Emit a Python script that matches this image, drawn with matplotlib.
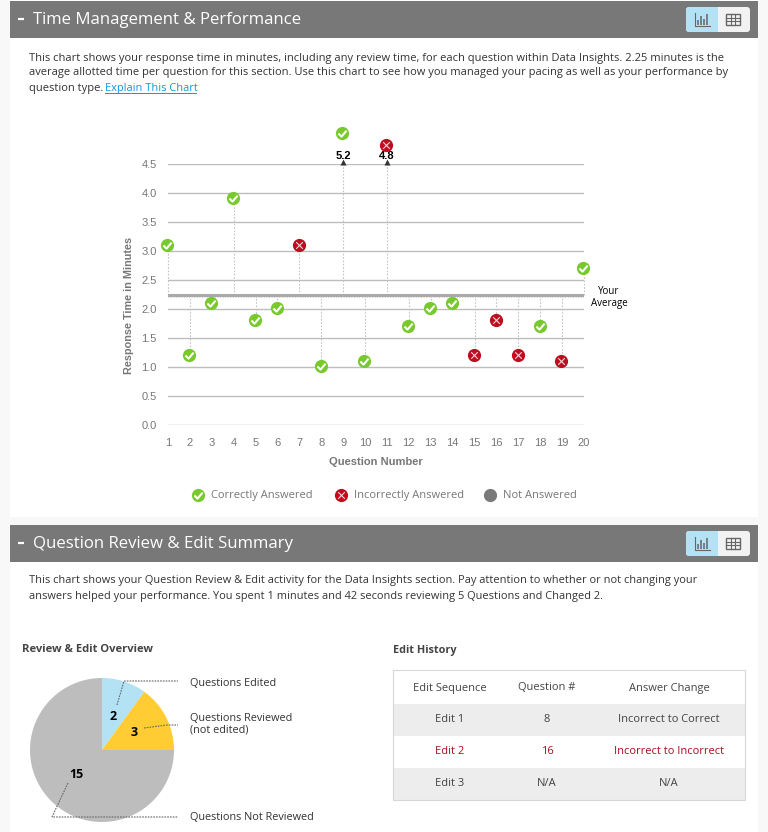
import matplotlib
matplotlib.use("Agg")
import matplotlib.pyplot as plt
from matplotlib.patches import Rectangle, FancyBboxPatch
from matplotlib.path import Path
from matplotlib.transforms import offset_copy

# Per question data
questions = list(range(1, 21))
response_times = [3.1, 1.2, 2.1, 3.9, 1.8, 2.0, 3.1, 1.0, 5.2, 1.1, 4.8, 1.7, 2.0, 2.1, 1.2, 1.8, 1.2, 1.7, 1.1, 2.7]
is_correct = [1, 1, 1, 1, 1, 1, 0, 1, 1, 1, 0, 1, 1, 1, 0, 0, 0, 1, 0, 1]
average_time = 2.25
axis_top = 4.5
# Values above the axis top sit on their own spots over the arrow
offscale_shown = {9: 5.02, 11: 4.81}
y_ticks = [0.0, 0.5, 1.0, 1.5, 2.0, 2.5, 3.0, 3.5, 4.0, 4.5]

# Pie data
pie_values = [2, 3, 15]
pie_labels = ["Questions Edited", "Questions Reviewed\n(not edited)", "Questions Not Reviewed"]
pie_colors = ["#B3E2F5", "#FFCC33", "#BDBDBD"]

# Table data
table_header = ["Edit Sequence", "Question #", "Answer Change"]
table_rows = [
    ["Edit 1", "8", "Incorrect to Correct"],
    ["Edit 2", "16", "Incorrect to Incorrect"],
    ["Edit 3", "N/A", "N/A"],
]
legend_labels = ["Correctly Answered", "Incorrectly Answered", "Not Answered"]

GREEN = "#78C92E"
RED = "#BF0D20"
plt.rcParams["font.family"] = ["Open Sans", "DejaVu Sans"]

CHECK = Path([(-0.5, 0.0), (-0.12, -0.38), (0.5, 0.35)], [Path.MOVETO, Path.LINETO, Path.LINETO])
CROSS = Path([(-0.5, -0.5), (0.5, 0.5), (-0.5, 0.5), (0.5, -0.5)],
             [Path.MOVETO, Path.LINETO, Path.MOVETO, Path.LINETO])

W, H = 768, 832
fig = plt.figure(figsize=(W / 100, H / 100), dpi=100, facecolor="#F8F8F8")

# Full page axes in pixels for the page furniture
page = fig.add_axes([0, 0, 1, 1])
page.set_xlim(0, W)
page.set_ylim(H, 0)
page.axis("off")
page.add_patch(Rectangle((10, 0), 748, 517, fc="white", ec="none"))
page.add_patch(Rectangle((10, 525), 748, 307, fc="white", ec="none"))


def draw_status(ax, x, y, correct, size=9.5, trans=None):
    color = GREEN if correct else RED
    trans = trans or ax.transData
    ax.plot([x], [y], "o", ms=size, mfc=color, mec="none", clip_on=False, zorder=6, transform=trans)
    if correct:
        ax.plot([x], [y], marker=CHECK, ms=size * 0.62, mfc="none", mec="white", mew=1.5, clip_on=False, zorder=7, transform=trans)
    else:
        ax.plot([x], [y], marker=CROSS, ms=size * 0.5, mfc="none", mec="#F3D5D8", mew=0.8, clip_on=False, zorder=7, transform=trans)


def draw_header(y, title):
    page.add_patch(Rectangle((10, y), 748, 37, fc="#787878", ec="none"))
    page.plot([18, 24], [y + 18, y + 18], color="white", lw=1.6, solid_capstyle="butt")
    page.text(33, y + 18.5, title, color="white", fontsize=12.1, fontweight="medium", va="center", ha="left")
    # chart / table toggle
    page.add_patch(FancyBboxPatch((689, y + 9), 58, 19, boxstyle="round,pad=3", fc="#F2F2F2", ec="none"))
    page.add_patch(FancyBboxPatch((689, y + 9), 26, 19, boxstyle="round,pad=3", fc="#B3E2F5", ec="none"))
    page.add_patch(Rectangle((708, y + 6), 10, 25, fc="#B3E2F5", ec="none"))
    page.plot([695, 695, 710], [y + 12, y + 25, y + 25], color="#666666", lw=0.8)
    for bx, bh in zip([698, 701, 704, 707], [5, 9, 6, 11]):
        page.plot([bx, bx], [y + 24, y + 24 - bh], color="#666666", lw=1.1, solid_capstyle="butt")
    page.add_patch(Rectangle((726, y + 13), 14, 11, fc="#F2F2F2", ec="#666666", lw=1))
    for gx in [731, 735]:
        page.plot([gx, gx], [y + 13, y + 24], color="#666666", lw=0.8)
    for gy in [y + 16.5, y + 20]:
        page.plot([726, 740], [gy, gy], color="#666666", lw=0.8)


draw_header(1, "Time Management & Performance")
draw_header(525, "Question Review & Edit Summary")

# Intro paragraphs
intro_top = [
    "This chart shows your response time in minutes, including any review time, for each question within Data Insights. 2.25 minutes is the",
    "average allotted time per question for this section. Use this chart to see how you managed your pacing as well as your performance by",
    "question type. ",
]
for line, y in zip(intro_top, [58, 73, 88]):
    page.text(29, y, line, fontsize=8, color="#333333", va="center")
page.text(105, 88, "Explain This Chart", fontsize=7.9, color="#0A9ADB", va="center")
page.plot([105, 196], [93, 93], color="#0A9ADB", lw=0.7)

intro_bottom = [
    "This chart shows your Question Review & Edit activity for the Data Insights section. Pay attention to whether or not changing your",
    "answers helped your performance. You spent 1 minutes and 42 seconds reviewing 5 Questions and Changed 2.",
]
for line, y in zip(intro_bottom, [581, 596]):
    page.text(29, y, line, fontsize=7.95, color="#333333", va="center")

# Scatter chart
ax = fig.add_axes([168 / W, (H - 425) / H, 416 / W, 261 / H], zorder=3)
ax.patch.set_alpha(0)
ax.set_xlim(1, 20)
ax.set_ylim(0, axis_top)
for side in ax.spines.values():
    side.set_visible(False)
ax.set_yticks(y_ticks)
ax.set_yticklabels([f"{t:.1f}" for t in y_ticks], family="Liberation Sans", fontsize=8, color="#777777")
ax.set_xticks(questions)
ax.set_xticklabels([str(q) for q in questions], family="Liberation Sans", fontsize=8, color="#777777")
ax.tick_params(length=0, pad=8)
ax.tick_params(axis="x", pad=9.5)
ax.grid(axis="y", color="#BDBDBD", lw=1)
ax.set_axisbelow(True)
ax.set_xlabel("Question Number", family="Liberation Sans", fontsize=8, fontweight="bold", color="#777777", labelpad=6.2)
ax.set_ylabel("Response Time in Minutes", family="Liberation Sans", fontsize=7.8, fontweight="bold", color="#777777")
ax.yaxis.set_label_coords(-0.082, 0.458)

marker_trans = offset_copy(ax.transData, fig=fig, x=-0.7, y=0.7, units="dots")
ax.axhline(average_time, color="#AAAAAA", lw=2.2, zorder=3)
ax.axhline(average_time - 0.04, color="#C8C8C8", lw=0.7, ls=":", zorder=3)
for q, t, ok in zip(questions, response_times, is_correct):
    capped = min(t, axis_top)
    ax.plot([q, q], [average_time, capped], color="#C4C4C4", lw=0.8, ls=(0, (1.5, 1.5)), zorder=2, clip_on=False)
    if q in offscale_shown:
        ax.plot([q], [axis_top + 0.03], "^", ms=4, color="#333333", mec="none", clip_on=False, zorder=5)
        ax.text(q, axis_top + 0.06, f"{t:.1f}", family="Liberation Sans", fontsize=8, fontweight="bold",
                color="black", ha="center", va="bottom")
        draw_status(ax, q, offscale_shown[q], ok, trans=marker_trans)
    else:
        draw_status(ax, q, t, ok, trans=marker_trans)
ax.text(1.06, average_time / axis_top - 0.012, "Your\nAverage", transform=ax.transAxes, fontsize=7,
        color="black", ha="center", va="center", linespacing=1.1)

# Legend
for x, lab, state in zip([198, 341, 490], legend_labels, [True, False, None]):
    if state is None:
        page.plot([x], [495], "o", ms=9.5, mfc="#7A7A7A", mec="none")
    else:
        draw_status(page, x, 495, state)
    page.text(x + 13, 495.5, lab, fontsize=8, color="#777777", va="center")

# Review overview pie
page.text(22, 650, "Review & Edit Overview", fontsize=8.1, fontweight="bold", color="#444444", va="center")
pie_ax = fig.add_axes([30 / W, (H - 822) / H, 144 / W, 144 / H], zorder=2)
pie_ax.pie(pie_values, colors=pie_colors, startangle=90, counterclock=False, radius=1.0,
           wedgeprops={"linewidth": 0})
pie_ax.set_xlim(-1, 1)
pie_ax.set_ylim(-1, 1)

overlay = fig.add_axes([0, 0, 1, 1], zorder=4)
overlay.set_xlim(0, W)
overlay.set_ylim(H, 0)
overlay.axis("off")
leaders = [
    ([117, 124, 178], [705, 681, 681]),
    ([144, 167, 178], [728, 725, 725]),
    ([68, 52, 178], [783, 817, 817]),
]
for (lx, ly) in leaders:
    overlay.plot(lx, ly, color="#666666", lw=0.8, ls=(0, (1.5, 1)))
for val, (x, y) in zip(pie_values, [(113, 716), (134, 733), (76, 775)]):
    overlay.text(x, y, str(val), fontsize=9, fontweight="bold", color="black", ha="center", va="center")
for lab, y in zip(pie_labels, [683, 724, 818]):
    overlay.text(190, y, lab, fontsize=7.85, color="#333333", va="center", linespacing=1.05)

# Edit history table
page.text(393, 650, "Edit History", fontsize=7.8, fontweight="bold", color="#444444", va="center")
col_x = [450, 547, 669]
row_y = [670, 704, 736, 768, 800]
for i in range(3):
    if i != 1:
        page.add_patch(Rectangle((393, row_y[i + 1]), 352, row_y[i + 2] - row_y[i + 1], fc="#EDEDED", ec="none"))
page.add_patch(Rectangle((393, 670), 352, 130, fc="none", ec="#D8D8D8", lw=0.8))
for cx, head in zip(col_x, table_header):
    page.text(cx, 690.5, head, fontsize=8, color="#444444", ha="center", va="baseline")
for r, row in enumerate(table_rows):
    color = "#A8101F" if r == 1 else "#444444"
    for cx, cell in zip(col_x, row):
        page.text(cx, (row_y[r + 1] + row_y[r + 2]) / 2 + 2.5, cell, fontsize=8, color=color, ha="center", va="baseline")

fig.savefig("out.png", dpi=100, facecolor=fig.get_facecolor())
